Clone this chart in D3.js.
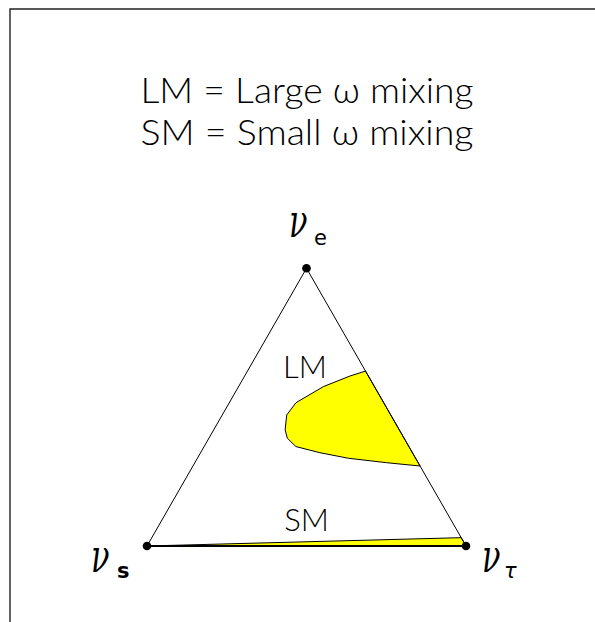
<!DOCTYPE html>
<html><head><meta charset="utf-8">
<script src="https://cdn.jsdelivr.net/npm/d3@7"></script>
<style>body{margin:0;background:#fff}svg{display:block}</style>
</head><body>
<svg id="c" width="595" height="622"></svg>
<script>
// Title lines
const titleLines = ["LM = Large \u03C9 mixing", "SM = Small \u03C9 mixing"];
// Vertices (ternary: fraction of nu_e, nu_tau; nu_s = 1 - e - tau)
const vertexNames = ["e", "s", "\u03C4"];
const vertexE = [1, 0, 0];
const vertexTau = [0, 0, 1];
// LM allowed region (ternary fractions)
const lmE   = [0.63, 0.612, 0.574, 0.516, 0.472, 0.418, 0.388, 0.358, 0.336, 0.316, 0.300, 0.288];
const lmTau = [0.37, 0.330, 0.266, 0.209, 0.202, 0.224, 0.246, 0.288, 0.374, 0.473, 0.601, 0.712];
// SM allowed region
const smE   = [0, 0.03, 0];
const smTau = [0, 0.97, 1];
// Region labels
const regionLabels = ["LM", "SM"];
const regionLabelE = [0.61, 0.06];
const regionLabelTau = [0.19, 0.47];

const svg = d3.select("#c");
const x = d3.scaleLinear().domain([0, 1]).range([147, 466]);
const y = d3.scaleLinear().domain([0, Math.sqrt(3) / 2]).range([546, 268.3]);
const px = (e, t) => x(t + e / 2);
const py = (e) => y(e * Math.sqrt(3) / 2);

// frame
svg.append("path").attr("d", "M10,622V9H595").attr("fill", "none").attr("stroke", "#222").attr("stroke-width", 1.4);

// title (one text block, two lines)
const title = svg.append("text")
  .attr("text-anchor", "middle")
  .attr("font-family", "Lato, Liberation Sans, sans-serif")
  .attr("font-weight", 300)
  .attr("font-size", 35);
title.selectAll("tspan").data(titleLines).join("tspan")
  .attr("x", 307).attr("y", (d, i) => [103, 145][i])
  .attr("textLength", 333)
  .attr("lengthAdjust", "spacingAndGlyphs")
  .text(d => d);

// regions
const line = d3.line().x(d => px(d[0], d[1])).y(d => py(d[0])).curve(d3.curveLinearClosed);
svg.append("path").datum(lmE.map((e, i) => [e, lmTau[i]]))
  .attr("d", line).attr("fill", "#ffff00").attr("stroke", "#000").attr("stroke-width", 1);
svg.append("path").datum(smE.map((e, i) => [e, smTau[i]]))
  .attr("d", line).attr("fill", "#ffff00").attr("stroke", "#000").attr("stroke-width", 1);

// triangle sides
const V = vertexE.map((e, i) => [px(e, vertexTau[i]), py(e)]);
svg.append("line").attr("x1", V[1][0]).attr("y1", V[1][1]).attr("x2", V[0][0]).attr("y2", V[0][1]).attr("stroke", "#000").attr("stroke-width", 1);
svg.append("line").attr("x1", V[0][0]).attr("y1", V[0][1]).attr("x2", V[2][0]).attr("y2", V[2][1]).attr("stroke", "#000").attr("stroke-width", 1);
svg.append("line").attr("x1", V[1][0]).attr("y1", V[1][1]).attr("x2", V[2][0]).attr("y2", V[2][1]).attr("stroke", "#000").attr("stroke-width", 2);

// vertex dots
svg.selectAll("circle").data(V).join("circle")
  .attr("cx", d => d[0]).attr("cy", d => d[1]).attr("r", 4.3).attr("fill", "#000");

// vertex labels
const labelPos = [[289, 237], [91, 572], [482, 572]];
const subPos = [[314, 245], [117, 578], [504, 578]];
vertexNames.forEach((n, i) => {
  const g = svg.append("g");
  g.append("text").attr("transform", `translate(${labelPos[i][0]},${labelPos[i][1]}) scale(0.95,1.45)`)
    .attr("font-family", "DejaVu Serif, serif").attr("font-style", "italic")
    .attr("font-size", 32).text("\u03BD");
  g.append("text").attr("x", subPos[i][0]).attr("y", subPos[i][1])
    .attr("font-family", "DejaVu Sans, sans-serif").attr("font-weight", n === "s" ? "bold" : "normal")
    .attr("font-style", n === "\u03C4" ? "italic" : "normal")
    .attr("font-size", 21).text(n);
});

// region labels
svg.selectAll("text.rl").data(regionLabels).join("text")
  .attr("class", "rl")
  .attr("x", (d, i) => px(regionLabelE[i], regionLabelTau[i]))
  .attr("y", (d, i) => [378, 531][i])
  .attr("text-anchor", "middle")
  .attr("font-family", "Lato, Liberation Sans, sans-serif")
  .attr("font-weight", 300)
  .attr("font-size", 31)
  .text(d => d);
</script>
</body></html>
